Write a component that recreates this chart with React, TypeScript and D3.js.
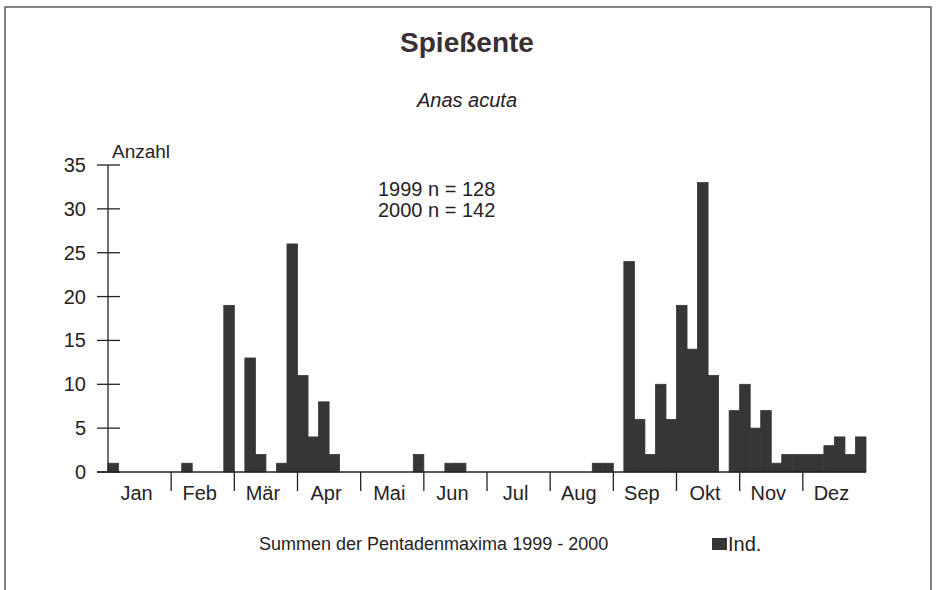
import React from "react";
import * as d3 from "d3";

const months = ["Jan", "Feb", "Mär", "Apr", "Mai", "Jun", "Jul", "Aug", "Sep", "Okt", "Nov", "Dez"];
// Sums of pentad maxima 1999-2000, 6 pentads per month
const pentadValues = [
  1, 0, 0, 0, 0, 0, // Jan
  0, 1, 0, 0, 0, 19, // Feb
  0, 13, 2, 0, 1, 26, // Mär
  11, 4, 8, 2, 0, 0, // Apr
  0, 0, 0, 0, 0, 2, // Mai
  0, 0, 1, 1, 0, 0, // Jun
  0, 0, 0, 0, 0, 0, // Jul
  0, 0, 0, 0, 1, 1, // Aug
  0, 24, 6, 2, 10, 6, // Sep
  19, 14, 33, 11, 0, 7, // Okt
  10, 5, 7, 1, 2, 2, // Nov
  2, 2, 3, 4, 2, 4, // Dez
];
const yTicks = [0, 5, 10, 15, 20, 25, 30, 35];
const title = "Spießente";
const subtitle = "Anas acuta";
const yLabel = "Anzahl";
const notes = ["1999 n = 128", "2000 n = 142"];
const footer = "Summen der Pentadenmaxima 1999 - 2000";
const legendLabel = "Ind.";

const W = 938;
const H = 590;
const left = 108;
const right = 866;
const top = 165;
const bottom = 472;
const FONT = "'Liberation Sans', Arial, Helvetica, sans-serif";
const INK = "#262224";
const BAR = "#363636";

export default function App() {
  const idx = pentadValues.map((_, i) => i);
  const x = d3.scaleBand<number>().domain(idx).range([left, right]).paddingInner(0).paddingOuter(0);
  const xl = d3.scaleLinear().domain([0, pentadValues.length]).range([left, right]);
  const y = d3.scaleLinear().domain([0, 35]).range([bottom, top]);
  const per = pentadValues.length / months.length;

  return (
    <svg
      width={W}
      height={H}
      style={{ position: "absolute", left: 0, top: 0, background: "#fff" }}
      fontFamily={FONT}
    >
      <rect x={0} y={0} width={W} height={H} fill="#fff" />
      {/* frame */}
      <rect x={5} y={7} width={926} height={H + 20} fill="none" stroke="#444" strokeWidth={1.3} />

      {/* titles */}
      <text x={467} y={52} textAnchor="middle" fontSize={28} fontWeight="bold" fill="#3a3034">
        {title}
      </text>
      <text x={467} y={107} textAnchor="middle" fontSize={20} fontStyle="italic" fill={INK}>
        {subtitle}
      </text>
      <text x={112} y={158} fontSize={19} fill={INK}>
        {yLabel}
      </text>
      {notes.map((t, i) => (
        <text key={t} x={378} y={196 + i * 21} fontSize={20} fill={INK}>
          {t}
        </text>
      ))}

      {/* bars */}
      {pentadValues.map((v, i) =>
        v > 0 ? (
          <rect
            key={i}
            x={x(i)!}
            y={y(v)}
            width={x.bandwidth()}
            height={y(0) - y(v)}
            fill={BAR}
            stroke={BAR}
            strokeWidth={0.8}
          />
        ) : null
      )}

      {/* y axis */}
      <line x1={left} x2={left} y1={y(35)} y2={y(0)} stroke={INK} strokeWidth={1.3} />
      {yTicks.map((t) => (
        <g key={t}>
          <line x1={97} x2={120} y1={y(t)} y2={y(t)} stroke={INK} strokeWidth={1.3} />
          <text x={86} y={y(t) + 7} textAnchor="end" fontSize={20} fill={INK}>
            {t}
          </text>
        </g>
      ))}

      {/* x axis */}
      <line x1={97} x2={right} y1={y(0)} y2={y(0)} stroke={INK} strokeWidth={1.3} />
      {months.map((m, i) => (
        <g key={m}>
          {i > 0 ? (
            <line
              x1={xl(i * per)}
              x2={xl(i * per)}
              y1={y(0)}
              y2={y(0) + 19}
              stroke={INK}
              strokeWidth={1.3}
            />
          ) : null}
          <text x={xl(i * per + per / 2) - 3} y={500} textAnchor="middle" fontSize={20} fill={INK}>
            {m}
          </text>
        </g>
      ))}

      {/* footer & legend */}
      <text x={259} y={550} fontSize={18} fill={INK}>
        {footer}
      </text>
      <rect x={712} y={538} width={15} height={12} fill={BAR} />
      <text x={728} y={551} fontSize={20} fill={INK}>
        {legendLabel}
      </text>
    </svg>
  );
}
